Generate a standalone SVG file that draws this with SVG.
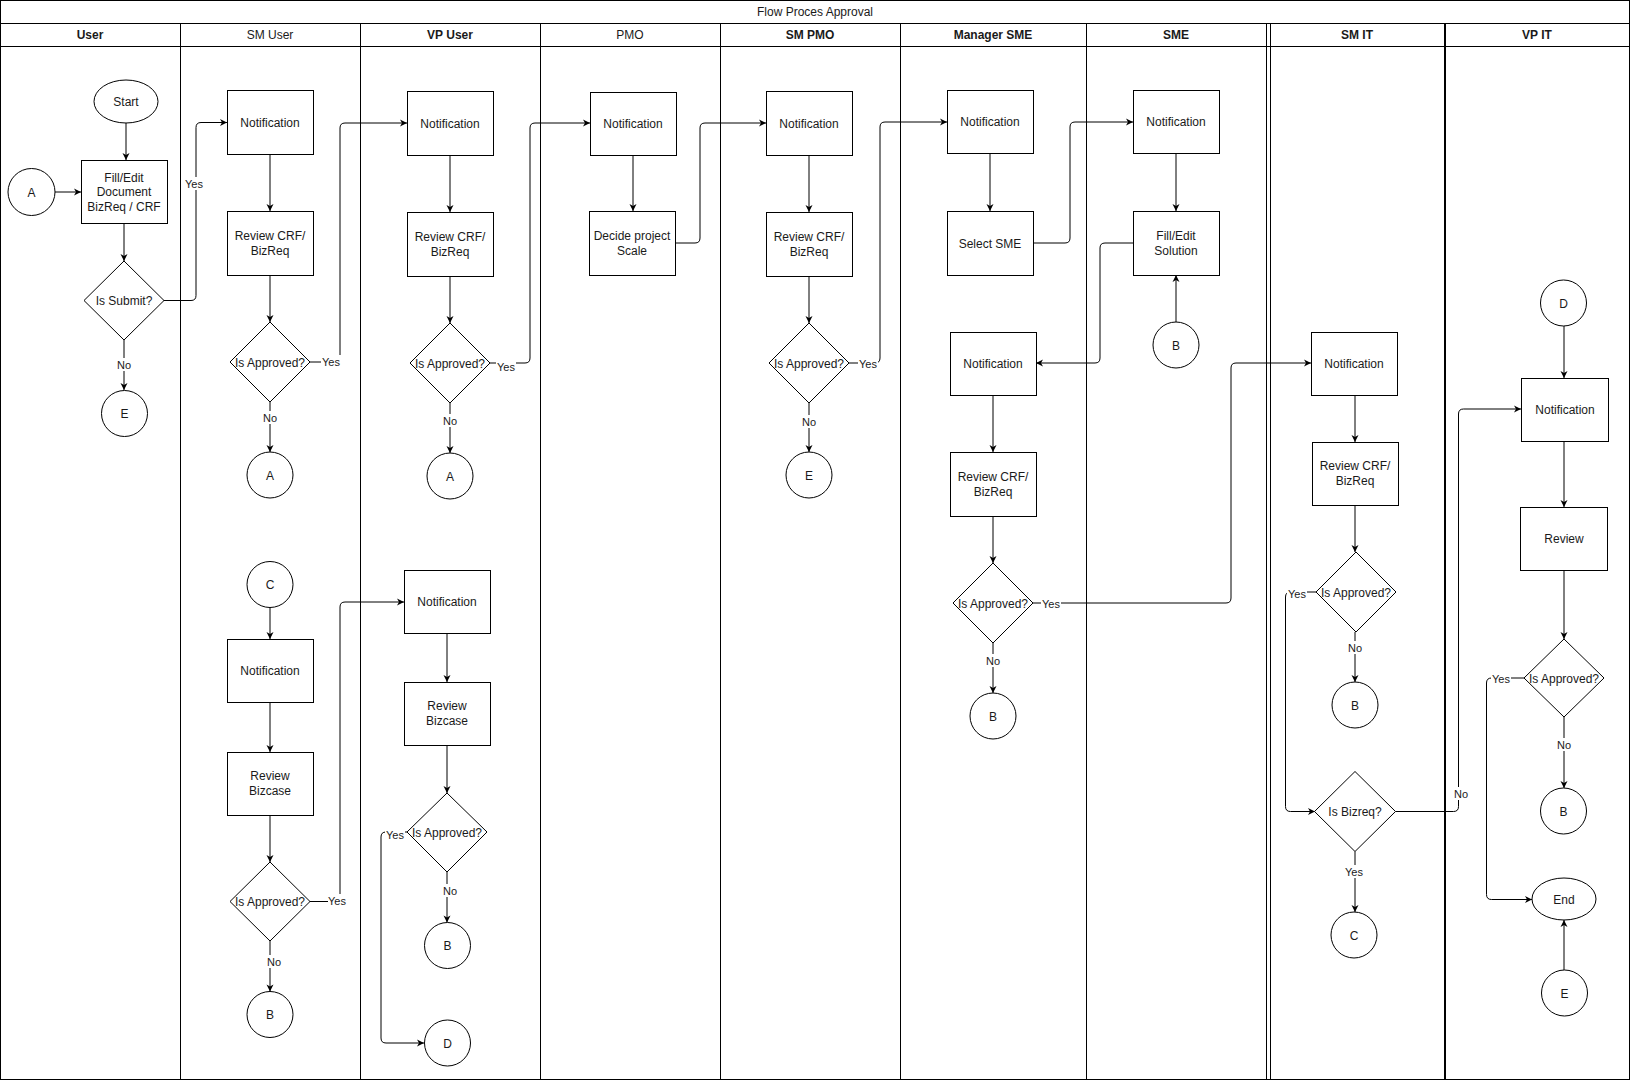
<svg xmlns="http://www.w3.org/2000/svg" width="1631" height="1081" viewBox="0 0 1631 1081">
<style>
.frame{fill:none;stroke:#000;stroke-width:1}
.box{fill:#fff;stroke:#000;stroke-width:1}
.t{font-family:"Liberation Sans",Arial,sans-serif;font-size:12px;fill:#1a1a1a;text-anchor:middle}
.h{font-weight:bold}
.lbl{font-family:"Liberation Sans",Arial,sans-serif;font-size:11px;fill:#1a1a1a;text-anchor:middle}
.lb{fill:#fff;stroke:none}
.e{fill:none;stroke:#000;stroke-width:1;marker-end:url(#arr)}
</style>
<defs>
<marker id="arr" viewBox="-8 -4 8 8" refX="0" refY="0" markerWidth="8" markerHeight="8" markerUnits="userSpaceOnUse" orient="auto">
<path d="M-7,-3.5 L0,0 L-7,3.5 L-5,0 Z" fill="#000"/>
</marker>
</defs>
<rect x="0" y="0" width="1631" height="1081" fill="#fff"/>
<g id="pool">
<rect class="frame" x="0.5" y="0.5" width="1629" height="1079"/>
<line class="frame" x1="0" y1="23.5" x2="1630" y2="23.5"/>
<line class="frame" x1="0" y1="46.5" x2="1630" y2="46.5"/>
<line class="frame" x1="180.5" y1="23" x2="180.5" y2="1080"/>
<line class="frame" x1="360.5" y1="23" x2="360.5" y2="1080"/>
<line class="frame" x1="540.5" y1="23" x2="540.5" y2="1080"/>
<line class="frame" x1="720.5" y1="23" x2="720.5" y2="1080"/>
<line class="frame" x1="900.5" y1="23" x2="900.5" y2="1080"/>
<line class="frame" x1="1086.5" y1="23" x2="1086.5" y2="1080"/>
<line class="frame" x1="1266.5" y1="23" x2="1266.5" y2="1080"/>
<line class="frame" x1="1270.5" y1="23" x2="1270.5" y2="1080"/>
<line x1="1445" y1="23" x2="1445" y2="1080" stroke="#000" stroke-width="2"/>
<text class="t" x="815" y="16">Flow Proces Approval</text>
<text class="t h" x="90" y="39">User</text>
<text class="t" x="270" y="39">SM User</text>
<text class="t h" x="450" y="39">VP User</text>
<text class="t" x="630" y="39">PMO</text>
<text class="t h" x="810" y="39">SM PMO</text>
<text class="t h" x="993" y="39">Manager SME</text>
<text class="t h" x="1176" y="39">SME</text>
<text class="t h" x="1357" y="39">SM IT</text>
<text class="t h" x="1537" y="39">VP IT</text>
</g>
<g id="connectors">
<path class="e" d="M126,123 V160"/>
<path class="e" d="M55,192 H81"/>
<path class="e" d="M124,223 V261"/>
<path class="e" d="M164,300.5 H191 Q196,300.5 196,295.5 V127.5 Q196,122.5 201,122.5 H227"/>
<path class="e" d="M124,340 V390"/>
<path class="e" d="M270,154 V211"/>
<path class="e" d="M270,275 V322"/>
<path class="e" d="M310,362 H335 Q340,362 340,357 V128 Q340,123 345,123 H407"/>
<path class="e" d="M270,402 V452"/>
<path class="e" d="M450,155 V212"/>
<path class="e" d="M450,276 V323"/>
<path class="e" d="M490,363 H525 Q530,363 530,358 V128 Q530,123 535,123 H590"/>
<path class="e" d="M450,403 V453"/>
<path class="e" d="M633,155 V211"/>
<path class="e" d="M675,243 H695 Q700,243 700,238 V128 Q700,123 705,123 H766"/>
<path class="e" d="M809,155 V212"/>
<path class="e" d="M809,276 V323"/>
<path class="e" d="M849,363 H875 Q880,363 880,358 V127 Q880,122 885,122 H947"/>
<path class="e" d="M809,403 V452"/>
<path class="e" d="M990,153 V211"/>
<path class="e" d="M1033,243 H1065 Q1070,243 1070,238 V127 Q1070,122 1075,122 H1133"/>
<path class="e" d="M1176,153 V211"/>
<path class="e" d="M1176,322 V275"/>
<path class="e" d="M1133,243 H1105 Q1100,243 1100,248 V358 Q1100,363 1095,363 H1036"/>
<path class="e" d="M993,395 V452"/>
<path class="e" d="M993,516 V563"/>
<path class="e" d="M1033,603 H1226 Q1231,603 1231,598 V368 Q1231,363 1236,363 H1311"/>
<path class="e" d="M993,643 V693"/>
<path class="e" d="M1355,395 V442"/>
<path class="e" d="M1355,505 V552"/>
<path class="e" d="M1316,592 H1290.5 Q1285.5,592 1285.5,597 V806.5 Q1285.5,811.5 1290.5,811.5 H1315"/>
<path class="e" d="M1355,632 V682"/>
<path class="e" d="M1395.5,811.5 H1453.5 Q1458.5,811.5 1458.5,806.5 V414 Q1458.5,409 1463.5,409 H1521"/>
<path class="e" d="M1355,851.5 V912"/>
<path class="e" d="M1564,326 V378"/>
<path class="e" d="M1564,441 V507"/>
<path class="e" d="M1564,570 V639"/>
<path class="e" d="M1524,678 H1491.5 Q1486.5,678 1486.5,683 V894.5 Q1486.5,899.5 1491.5,899.5 H1532"/>
<path class="e" d="M1564,717 V788"/>
<path class="e" d="M1564,970 V920"/>
<path class="e" d="M270,607.5 V639"/>
<path class="e" d="M270,702 V752"/>
<path class="e" d="M270,815 V862"/>
<path class="e" d="M310,901.5 H335 Q340,901.5 340,896.5 V607 Q340,602 345,602 H404"/>
<path class="e" d="M270,941 V991.5"/>
<path class="e" d="M447,633 V682"/>
<path class="e" d="M447,745 V793"/>
<path class="e" d="M407.5,832 H386 Q381,832 381,837 V1038 Q381,1043 386,1043 H424"/>
<path class="e" d="M447,872 V922.5"/>
<g id="edge-labels">
<rect class="lb" x="184" y="177" width="20" height="13"/><text class="lbl" x="194" y="188">Yes</text>
<rect class="lb" x="116" y="358" width="16" height="13"/><text class="lbl" x="124" y="369">No</text>
<rect class="lb" x="321" y="355" width="20" height="13"/><text class="lbl" x="331" y="366">Yes</text>
<rect class="lb" x="262" y="411" width="16" height="13"/><text class="lbl" x="270" y="422">No</text>
<rect class="lb" x="496" y="360" width="20" height="13"/><text class="lbl" x="506" y="371">Yes</text>
<rect class="lb" x="442" y="414" width="16" height="13"/><text class="lbl" x="450" y="425">No</text>
<rect class="lb" x="858" y="357" width="20" height="13"/><text class="lbl" x="868" y="368">Yes</text>
<rect class="lb" x="801" y="415" width="16" height="13"/><text class="lbl" x="809" y="426">No</text>
<rect class="lb" x="1041" y="597" width="20" height="13"/><text class="lbl" x="1051" y="608">Yes</text>
<rect class="lb" x="985" y="654" width="16" height="13"/><text class="lbl" x="993" y="665">No</text>
<rect class="lb" x="1287" y="587" width="20" height="13"/><text class="lbl" x="1297" y="598">Yes</text>
<rect class="lb" x="1347" y="641" width="16" height="13"/><text class="lbl" x="1355" y="652">No</text>
<rect class="lb" x="1453" y="787" width="16" height="13"/><text class="lbl" x="1461" y="798">No</text>
<rect class="lb" x="1344" y="865" width="20" height="13"/><text class="lbl" x="1354" y="876">Yes</text>
<rect class="lb" x="1491" y="672" width="20" height="13"/><text class="lbl" x="1501" y="683">Yes</text>
<rect class="lb" x="1556" y="738" width="16" height="13"/><text class="lbl" x="1564" y="749">No</text>
<rect class="lb" x="328" y="894" width="20" height="13"/><text class="lbl" x="337" y="905">Yes</text>
<rect class="lb" x="266" y="955" width="16" height="13"/><text class="lbl" x="274" y="966">No</text>
<rect class="lb" x="385" y="828" width="20" height="13"/><text class="lbl" x="395" y="839">Yes</text>
<rect class="lb" x="442" y="884" width="16" height="13"/><text class="lbl" x="450" y="895">No</text>
</g>
</g>
<g id="start"><ellipse class="box" cx="126" cy="101.5" rx="32" ry="21.5"/><text class="t" x="126" y="106">Start</text></g>
<g id="fill-doc"><rect class="box" x="81.5" y="160.5" width="86" height="63"/><text class="t" x="124" y="182">Fill/Edit</text><text class="t" x="124" y="196">Document</text><text class="t" x="124" y="211">BizReq / CRF</text></g>
<g id="user-a"><circle class="box" cx="31.5" cy="192" r="23.5"/><text class="t" x="31.5" y="196.5">A</text></g>
<g id="is-submit"><polygon class="box" points="124,261 164,300.5 124,340 84,300.5"/><text class="t" x="124" y="305">Is Submit?</text></g>
<g id="user-e"><circle class="box" cx="124.5" cy="413.5" r="23"/><text class="t" x="124.5" y="418">E</text></g>

<g id="smu-notif"><rect class="box" x="227.5" y="90.5" width="86" height="64"/><text class="t" x="270" y="126.5">Notification</text></g>
<g id="smu-review"><rect class="box" x="227.5" y="211.5" width="86" height="64"/><text class="t" x="270" y="240">Review CRF/</text><text class="t" x="270" y="255">BizReq</text></g>
<g id="smu-dec"><polygon class="box" points="270,322 310,362 270,402 230,362"/><text class="t" x="270" y="366.5">Is Approved?</text></g>
<g id="smu-a"><circle class="box" cx="270" cy="475" r="23"/><text class="t" x="270" y="479.5">A</text></g>
<g id="smu-c"><circle class="box" cx="270" cy="584.5" r="23"/><text class="t" x="270" y="589">C</text></g>
<g id="smu-notif2"><rect class="box" x="227.5" y="639.5" width="86" height="63"/><text class="t" x="270" y="675">Notification</text></g>
<g id="smu-review-biz"><rect class="box" x="227.5" y="752.5" width="86" height="63"/><text class="t" x="270" y="780">Review</text><text class="t" x="270" y="795">Bizcase</text></g>
<g id="smu-dec2"><polygon class="box" points="270,862 310,901.5 270,941 230,901.5"/><text class="t" x="270" y="906">Is Approved?</text></g>
<g id="smu-b"><circle class="box" cx="270" cy="1014.5" r="23"/><text class="t" x="270" y="1019">B</text></g>

<g id="vpu-notif"><rect class="box" x="407.5" y="91.5" width="86" height="64"/><text class="t" x="450" y="127.5">Notification</text></g>
<g id="vpu-review"><rect class="box" x="407.5" y="212.5" width="86" height="64"/><text class="t" x="450" y="241">Review CRF/</text><text class="t" x="450" y="256">BizReq</text></g>
<g id="vpu-dec"><polygon class="box" points="450,323 490,363 450,403 410,363"/><text class="t" x="450" y="367.5">Is Approved?</text></g>
<g id="vpu-a"><circle class="box" cx="450" cy="476" r="23"/><text class="t" x="450" y="480.5">A</text></g>
<g id="vpu-notif2"><rect class="box" x="404.5" y="570.5" width="86" height="63"/><text class="t" x="447" y="606">Notification</text></g>
<g id="vpu-review-biz"><rect class="box" x="404.5" y="682.5" width="86" height="63"/><text class="t" x="447" y="710">Review</text><text class="t" x="447" y="725">Bizcase</text></g>
<g id="vpu-dec2"><polygon class="box" points="447,793 487,832 447,872 407,832"/><text class="t" x="447" y="836.5">Is Approved?</text></g>
<g id="vpu-b"><circle class="box" cx="447.5" cy="945.5" r="23"/><text class="t" x="447.5" y="950">B</text></g>
<g id="vpu-d"><circle class="box" cx="447.5" cy="1043" r="23"/><text class="t" x="447.5" y="1047.5">D</text></g>

<g id="pmo-notif"><rect class="box" x="590.5" y="92.5" width="86" height="63"/><text class="t" x="633" y="128">Notification</text></g>
<g id="pmo-decide"><rect class="box" x="589.5" y="211.5" width="86" height="64"/><text class="t" x="632" y="240">Decide project</text><text class="t" x="632" y="255">Scale</text></g>

<g id="smp-notif"><rect class="box" x="766.5" y="91.5" width="86" height="64"/><text class="t" x="809" y="127.5">Notification</text></g>
<g id="smp-review"><rect class="box" x="766.5" y="212.5" width="86" height="64"/><text class="t" x="809" y="241">Review CRF/</text><text class="t" x="809" y="256">BizReq</text></g>
<g id="smp-dec"><polygon class="box" points="809,323 849,363 809,403 769,363"/><text class="t" x="809" y="367.5">Is Approved?</text></g>
<g id="smp-e"><circle class="box" cx="809" cy="475" r="23"/><text class="t" x="809" y="479.5">E</text></g>

<g id="ms-notif"><rect class="box" x="947.5" y="90.5" width="86" height="63"/><text class="t" x="990" y="126">Notification</text></g>
<g id="ms-select"><rect class="box" x="947.5" y="211.5" width="86" height="64"/><text class="t" x="990" y="247.5">Select SME</text></g>
<g id="ms-notif2"><rect class="box" x="950.5" y="332.5" width="86" height="63"/><text class="t" x="993" y="368">Notification</text></g>
<g id="ms-review"><rect class="box" x="950.5" y="452.5" width="86" height="64"/><text class="t" x="993" y="481">Review CRF/</text><text class="t" x="993" y="496">BizReq</text></g>
<g id="ms-dec"><polygon class="box" points="993,563 1033,603 993,643 953,603"/><text class="t" x="993" y="607.5">Is Approved?</text></g>
<g id="ms-b"><circle class="box" cx="993" cy="716" r="23"/><text class="t" x="993" y="720.5">B</text></g>

<g id="sme-notif"><rect class="box" x="1133.5" y="90.5" width="86" height="63"/><text class="t" x="1176" y="126">Notification</text></g>
<g id="sme-fill"><rect class="box" x="1133.5" y="211.5" width="86" height="64"/><text class="t" x="1176" y="240">Fill/Edit</text><text class="t" x="1176" y="255">Solution</text></g>
<g id="sme-b"><circle class="box" cx="1176" cy="345" r="23"/><text class="t" x="1176" y="349.5">B</text></g>

<g id="smit-notif"><rect class="box" x="1311.5" y="332.5" width="86" height="63"/><text class="t" x="1354" y="368">Notification</text></g>
<g id="smit-review"><rect class="box" x="1312.5" y="442.5" width="86" height="63"/><text class="t" x="1355" y="470">Review CRF/</text><text class="t" x="1355" y="485">BizReq</text></g>
<g id="smit-dec"><polygon class="box" points="1356,552 1396,592 1356,632 1316,592"/><text class="t" x="1356" y="596.5">Is Approved?</text></g>
<g id="smit-b"><circle class="box" cx="1355" cy="705" r="23"/><text class="t" x="1355" y="709.5">B</text></g>
<g id="smit-bizreq"><polygon class="box" points="1355,771.5 1395.5,811.5 1355,851.5 1314.5,811.5"/><text class="t" x="1355" y="816">Is Bizreq?</text></g>
<g id="smit-c"><circle class="box" cx="1354" cy="935" r="23"/><text class="t" x="1354" y="939.5">C</text></g>

<g id="vpit-d"><circle class="box" cx="1563.5" cy="303" r="23"/><text class="t" x="1563.5" y="307.5">D</text></g>
<g id="vpit-notif"><rect class="box" x="1521.5" y="378.5" width="87" height="63"/><text class="t" x="1565" y="414">Notification</text></g>
<g id="vpit-review"><rect class="box" x="1520.5" y="507.5" width="87" height="63"/><text class="t" x="1564" y="543">Review</text></g>
<g id="vpit-dec"><polygon class="box" points="1564,639 1604,678 1564,717 1524,678"/><text class="t" x="1564" y="682.5">Is Approved?</text></g>
<g id="vpit-b"><circle class="box" cx="1563.5" cy="811" r="23"/><text class="t" x="1563.5" y="815.5">B</text></g>
<g id="vpit-end"><ellipse class="box" cx="1564" cy="899" rx="32" ry="21"/><text class="t" x="1564" y="903.5">End</text></g>
<g id="vpit-e"><circle class="box" cx="1564.5" cy="993" r="23"/><text class="t" x="1564.5" y="997.5">E</text></g>
</svg>
